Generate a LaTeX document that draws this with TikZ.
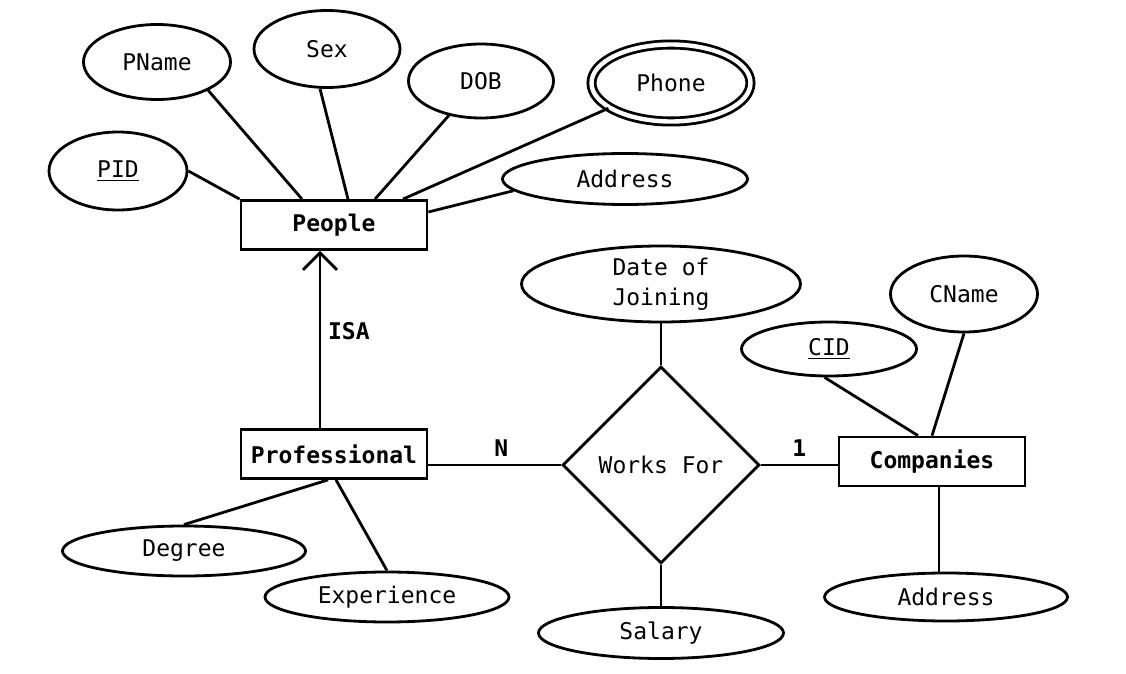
\documentclass[tikz,border=0pt]{standalone}
\usepackage{fontspec}
\setmainfont{DejaVu Sans Mono}
\usetikzlibrary{shapes.geometric,arrows.meta,calc}

\begin{document}
\begin{tikzpicture}[x=0.5pt,y=-0.5pt,line width=1.4pt,
  font=\fontsize{11.5}{15}\selectfont,
  entity/.style={draw,rectangle,minimum width=93pt,minimum height=24.5pt,
    inner sep=0pt,font=\fontsize{11.5}{15}\selectfont\bfseries},
  attr/.style 2 args={draw,ellipse,inner sep=0pt,minimum width=#1,minimum height=#2},
  rel/.style={draw,diamond,aspect=1,inner sep=0pt,minimum width=98.5pt,minimum height=98.5pt},
  card/.style={font=\fontsize{11.5}{15}\selectfont\bfseries}]
\useasboundingbox (0,0) rectangle (1126,674);

% entities
\node[entity] (people) at (334,225) {People};
\node[entity] (prof) at (334,454) {Professional};
\node[entity] (comp) at (932,461.5) {Companies};

% relationship
\node[rel] (wf) at (661,465) {Works For};

% people attributes
\node[attr={69pt}{39pt}] (pid) at (118,171) {\underline{PID}};
\node[attr={73.5pt}{37.5pt}] (pname) at (157,62) {PName};
\node[attr={73pt}{38.5pt}] (sex) at (327,49) {Sex};
\node[attr={72.5pt}{37pt}] (dob) at (481,81) {DOB};
\node[attr={79.5pt}{38.5pt},double,double distance=2.2pt] (phone) at (671,83) {Phone};
\node[attr={122.5pt}{25.5pt}] (paddr) at (625,179) {Address};

% professional attributes
\node[attr={121.5pt}{25pt}] (degree) at (184,551) {Degree};
\node[attr={122pt}{25pt}] (exp) at (387,597) {Experience};

% relationship attributes
\node[attr={139.5pt}{38pt},align=center] (doj) at (661,284) {Date of\\Joining};
\node[attr={122.5pt}{25.5pt}] (salary) at (661,633) {Salary};

% company attributes
\node[attr={87.5pt}{27pt}] (cid) at (829,349) {\underline{CID}};
\node[attr={73.5pt}{38pt}] (cname) at (964,294) {CName};
\node[attr={121.5pt}{24pt}] (caddr) at (946,597) {Address};

% people links
\draw (pid.east) -- (people.north west);
\draw (pname.-29) -- ($(people.north)+(-32,0)$);
\draw (sex.-100) -- ($(people.north)+(14,0)$);
\draw (dob.-133) -- ($(people.north)+(41,0)$);
\draw (phone.-158) -- ($(people.north)+(69,0)$);
\draw (paddr.-174) -- ($(people.east)+(0,-13)$);

% isa
\draw[-{Straight Barb[length=8.5pt,width=17pt]}] ($(prof.north)+(-14,0)$) -- ($(people.south)+(-14,0)$)
  node[pos=0.55,right,card] {ISA};

% professional links
\draw ($(prof.south)+(-6,0)$) -- (degree.north);
\draw ($(prof.south)+(2,0)$) -- (exp.north);

% works for
\draw (prof.east |- wf.west) -- (wf.west) node[pos=0.55,above,card] {N};
\draw (wf.east) -- (comp.west |- wf.east) node[midway,above,card] {1};
\draw (doj) -- (wf.north);
\draw (wf.south) -- (salary.north);

% company links
\draw (cid.-99) -- ($(comp.north)+(-14,0)$);
\draw (cname.south) -- (comp.north);
\draw ($(comp.south)+(7,0)$) -- ($(caddr.north)+(-7,0)$);

\end{tikzpicture}
\end{document}
